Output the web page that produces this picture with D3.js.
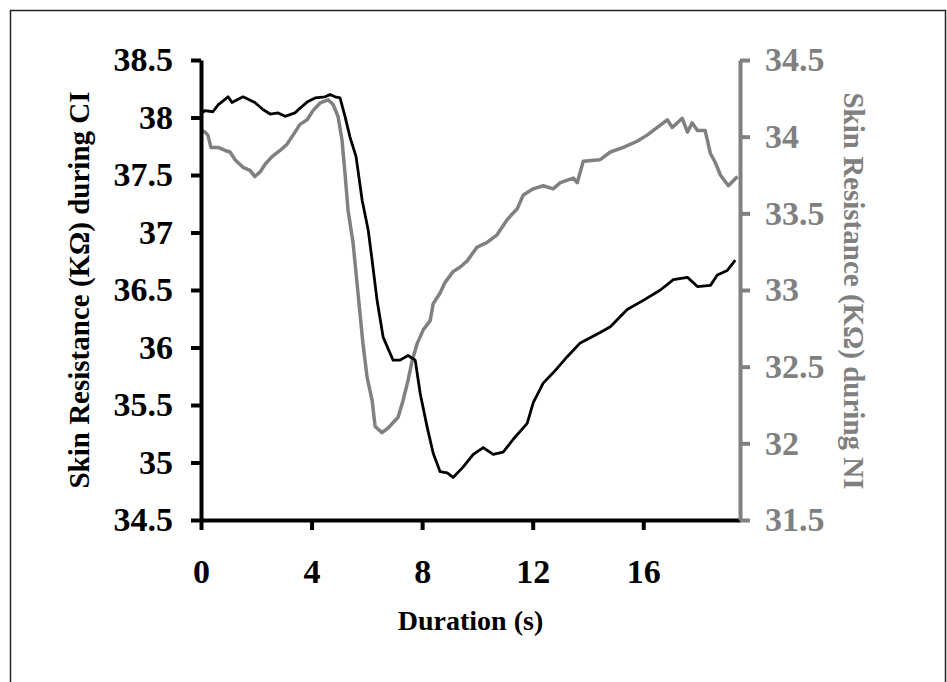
<!DOCTYPE html>
<html>
<head>
<meta charset="utf-8">
<script src="https://cdn.jsdelivr.net/npm/d3@7"></script>
<style>
  html, body { margin: 0; padding: 0; background: #fff; }
  svg { display: block; }
  text { font-family: "Liberation Serif", "Times New Roman", serif; font-weight: bold; }
</style>
</head>
<body>
<svg id="chart" width="947" height="682"></svg>
<script>
// ---- Data ----
const ciTime = [0.04,0.14,0.43,0.62,0.98,1.12,1.52,1.95,2.24,2.50,2.79,3.04,3.40,3.58,3.87,4.13,4.49,4.67,4.85,5.03,5.21,5.39,5.61,5.83,6.05,6.19,6.37,6.59,6.84,6.95,7.20,7.49,7.75,7.93,8.18,8.40,8.65,8.91,9.12,9.48,9.85,10.21,10.57,10.93,11.29,11.80,12.02,12.38,12.74,13.25,13.72,14.44,14.81,15.42,16.00,16.62,17.09,17.60,17.96,18.43,18.68,19.04,19.33];
const ciValues = [38.04,38.06,38.05,38.11,38.18,38.13,38.18,38.13,38.07,38.03,38.04,38.01,38.04,38.08,38.14,38.17,38.18,38.20,38.18,38.17,38.01,37.83,37.66,37.28,37.02,36.76,36.41,36.09,35.95,35.89,35.89,35.93,35.89,35.60,35.31,35.08,34.92,34.91,34.87,34.96,35.07,35.13,35.07,35.09,35.20,35.34,35.52,35.69,35.78,35.92,36.04,36.13,36.18,36.33,36.41,36.50,36.59,36.61,36.53,36.54,36.63,36.67,36.76];

const niTime = [0.04,0.14,0.25,0.36,0.62,0.87,1.05,1.23,1.52,1.77,1.95,2.14,2.32,2.57,2.86,3.11,3.33,3.58,3.84,4.05,4.31,4.60,4.78,4.96,5.10,5.21,5.32,5.50,5.68,5.86,6.01,6.19,6.30,6.55,6.77,7.13,7.31,7.49,7.64,7.82,8.04,8.29,8.40,8.65,8.83,9.12,9.38,9.63,9.99,10.35,10.71,11.08,11.44,11.66,12.02,12.38,12.74,13.00,13.47,13.61,13.83,14.44,14.81,15.28,15.78,16.14,16.51,16.87,17.05,17.41,17.60,17.77,17.96,18.24,18.43,18.61,18.79,19.08,19.41];
const niValues = [34.04,34.03,34.01,33.93,33.93,33.91,33.90,33.85,33.80,33.78,33.74,33.77,33.82,33.87,33.91,33.95,34.01,34.08,34.11,34.17,34.22,34.24,34.21,34.13,33.98,33.76,33.52,33.31,32.98,32.65,32.43,32.28,32.11,32.07,32.10,32.17,32.28,32.41,32.54,32.65,32.74,32.80,32.91,32.98,33.05,33.12,33.15,33.19,33.28,33.31,33.36,33.46,33.53,33.62,33.66,33.68,33.66,33.70,33.73,33.70,33.84,33.85,33.90,33.93,33.97,34.01,34.06,34.11,34.06,34.12,34.03,34.09,34.04,34.04,33.89,33.83,33.75,33.68,33.74];

const xTicks = [0, 4, 8, 12, 16];
const leftTicks = [34.5, 35, 35.5, 36, 36.5, 37, 37.5, 38, 38.5];
const rightTicks = [31.5, 32, 32.5, 33, 33.5, 34, 34.5];

const xTitle = "Duration (s)";
const leftTitle = "Skin Resistance (K\u03A9) during CI";
const rightTitle = "Skin Resistance (K\u03A9) during NI";

// ---- Layout ----
const GRAY = "#808080";
const plot = { left: 201, right: 740, top: 60, bottom: 520 };
const svg = d3.select("#chart");

// outer border
svg.append("rect")
  .attr("x", 10.5).attr("y", 10.5)
  .attr("width", 935).attr("height", 700)
  .attr("fill", "none").attr("stroke", "#222").attr("stroke-width", 1.5);

const x = d3.scaleLinear().domain([0, 19.5]).range([plot.left, plot.right]);
const yL = d3.scaleLinear().domain([34.5, 38.5]).range([plot.bottom, plot.top]);
const yR = d3.scaleLinear().domain([31.5, 34.5]).range([plot.bottom, plot.top]);

// data lines
const ciData = ciTime.map((t, i) => [t, ciValues[i]]);
const niData = niTime.map((t, i) => [t, niValues[i]]);

svg.append("path")
  .datum(niData)
  .attr("fill", "none").attr("stroke", GRAY).attr("stroke-width", 3.5)
  .attr("stroke-linejoin", "round")
  .attr("d", d3.line().x(d => x(d[0])).y(d => yR(d[1])));

svg.append("path")
  .datum(ciData)
  .attr("fill", "none").attr("stroke", "#000").attr("stroke-width", 2.8)
  .attr("stroke-linejoin", "round")
  .attr("d", d3.line().x(d => x(d[0])).y(d => yL(d[1])));

// axes
const tickFont = 34;
const FF = "'Liberation Serif', 'Times New Roman', serif";

const gx = svg.append("g").attr("transform", `translate(0,${plot.bottom})`)
  .call(d3.axisBottom(x).tickValues(xTicks).tickSize(10).tickSizeOuter(0).tickPadding(29));
gx.select(".domain").attr("stroke", "#000").attr("stroke-width", 4);
gx.selectAll(".tick line").attr("stroke", "#000").attr("stroke-width", 4);
gx.selectAll(".tick text").attr("fill", "#000").style("font-size", tickFont + "px")
  .style("font-family", FF).style("font-weight", "bold");

const gl = svg.append("g").attr("transform", `translate(${plot.left},0)`)
  .call(d3.axisLeft(yL).tickValues(leftTicks).tickFormat(d => String(d)).tickSize(10).tickSizeOuter(0).tickPadding(18));
gl.select(".domain").attr("stroke", "#000").attr("stroke-width", 4);
gl.selectAll(".tick line").attr("stroke", "#000").attr("stroke-width", 4);
gl.selectAll(".tick text").attr("fill", "#000").style("font-size", tickFont + "px")
  .style("font-family", FF).style("font-weight", "bold");

const gr = svg.append("g").attr("transform", `translate(${plot.right},0)`)
  .call(d3.axisRight(yR).tickValues(rightTicks).tickFormat(d => String(d)).tickSize(10).tickSizeOuter(0).tickPadding(15));
gr.select(".domain").attr("stroke", GRAY).attr("stroke-width", 4);
gr.selectAll(".tick line").attr("stroke", GRAY).attr("stroke-width", 4);
gr.selectAll(".tick text").attr("fill", GRAY).style("font-size", tickFont + "px")
  .style("font-family", FF).style("font-weight", "bold");

// titles
const titleFont = 29;
svg.append("text")
  .attr("x", (plot.left + plot.right) / 2).attr("y", 630)
  .attr("text-anchor", "middle").style("font-size", "28px").attr("fill", "#000")
  .text(xTitle);

svg.append("text")
  .attr("transform", `translate(89,${(plot.top + plot.bottom) / 2}) rotate(-90)`)
  .attr("text-anchor", "middle").style("font-size", titleFont + "px").attr("fill", "#000")
  .text(leftTitle);

svg.append("text")
  .attr("transform", `translate(844,${(plot.top + plot.bottom) / 2 + 1}) rotate(90)`)
  .attr("text-anchor", "middle").style("font-size", titleFont + "px").attr("fill", GRAY)
  .text(rightTitle);
</script>
</body>
</html>
